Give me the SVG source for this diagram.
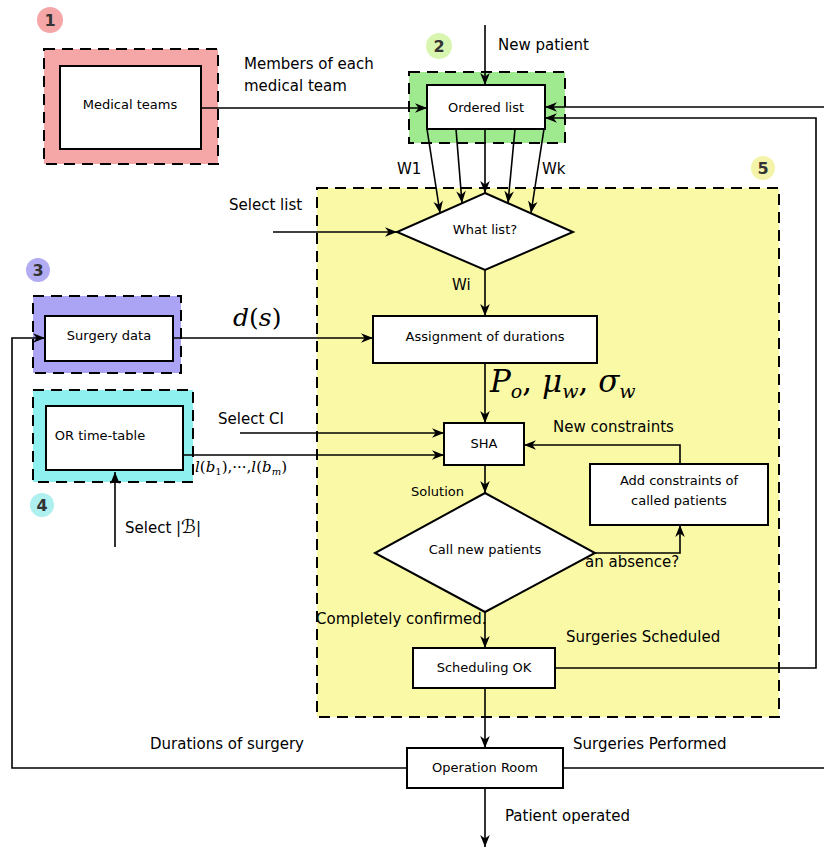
<svg xmlns="http://www.w3.org/2000/svg" width="824" height="849" viewBox="0 0 824 849">
<defs>
<marker id="arr" viewBox="0 0 10 10" refX="10" refY="5" markerWidth="12" markerHeight="12" orient="auto" markerUnits="userSpaceOnUse">
<path d="M0,1 L10,5 L0,9 L3,5 z" fill="#000"/>
</marker>
<style>
.region{stroke:#000;stroke-width:2;stroke-dasharray:11,7}
.box{fill:#fff;stroke:#000;stroke-width:2}
.dia{fill:#fff;stroke:#000;stroke-width:2}
.nl{font-family:"DejaVu Sans",sans-serif;font-size:13px;text-anchor:middle;fill:#000}
.lbl{font-family:"DejaVu Sans",sans-serif;font-size:15px;fill:#000}
.sm{font-family:"DejaVu Sans",sans-serif;font-size:15px;fill:#000}
.math{font-family:"DejaVu Serif",serif;font-style:italic;fill:#000}
.num{font-family:"DejaVu Sans",sans-serif;font-size:16px;font-weight:bold;text-anchor:middle;fill:#333}
.ln{fill:none;stroke:#000;stroke-width:1.6}
.ar{marker-end:url(#arr)}
</style>
</defs>
<rect width="824" height="849" fill="#fff"/>

<!-- regions -->
<g id="region1">
<rect x="44" y="49" width="174" height="115" fill="#f5a6a6" class="region"/>
<circle cx="50" cy="20" r="13" fill="#f5a6a6"/>
<text x="50" y="26" class="num">1</text>
</g>
<g id="region2">
<rect x="409" y="72" width="156" height="71" fill="#9fe98f" class="region"/>
<circle cx="439" cy="46" r="13" fill="#d9f6b0"/>
<text x="439" y="52" class="num">2</text>
</g>
<g id="region3">
<rect x="33" y="296" width="148" height="77" fill="#aba4f5" class="region"/>
<circle cx="38" cy="270" r="12" fill="#b2acf2"/>
<text x="38" y="276" class="num">3</text>
</g>
<g id="region4">
<rect x="33" y="390" width="160" height="92" fill="#8ff0f0" class="region"/>
<circle cx="42" cy="505" r="12" fill="#aef0f0"/>
<text x="42" y="511" class="num">4</text>
</g>
<g id="region5">
<rect x="317" y="188" width="462" height="529" fill="#fafaa6" class="region"/>
<circle cx="763" cy="168" r="12" fill="#f3f3aa"/>
<text x="763" y="174" class="num">5</text>
</g>

<!-- connectors -->
<g id="connectors">
<path d="M201,108 L427,108" class="ln ar"/>
<path d="M485,25 L485,85" class="ln ar"/>
<path d="M824,107 L545,107" class="ln ar"/>
<path d="M555,668 L816,668 L816,118 L545,118" class="ln ar"/>
<path d="M563,768 L824,768" class="ln"/>
<path d="M407,768 L12,768 L12,338 L45,338" class="ln ar"/>
<path d="M427,129 L440,213" class="ln ar"/>
<path d="M456,129 L462,203" class="ln ar"/>
<path d="M485,129 L485,193" class="ln ar"/>
<path d="M515,129 L508,203" class="ln ar"/>
<path d="M544,129 L531,213" class="ln ar"/>
<path d="M273,232 L397,232" class="ln ar"/>
<path d="M485,270 L485,316" class="ln ar"/>
<path d="M173,338 L373,338" class="ln ar"/>
<path d="M485,363 L485,423" class="ln ar"/>
<path d="M240,433 L444,433" class="ln ar"/>
<path d="M183,455 L444,455" class="ln ar"/>
<path d="M115,455 L183,455 M115,455 L115,470" fill="none" stroke="#000" stroke-width="1.4" stroke-dasharray="2,2"/>
<path d="M115,547 L115,472" class="ln ar"/>
<path d="M485,465 L485,493" class="ln ar"/>
<path d="M680,464 L680,445 L524,445" class="ln ar"/>
<path d="M595,553 L680,553 L680,525" class="ln ar"/>
<path d="M485,612 L485,648" class="ln ar"/>
<path d="M485,688 L485,748" class="ln ar"/>
<path d="M485,788 L485,847" class="ln ar"/>
</g>

<!-- nodes -->
<g id="medical-teams">
<rect x="60" y="66" width="141" height="83" class="box"/>
<text x="130" y="109" class="nl">Medical teams</text>
</g>
<g id="ordered-list">
<rect x="427" y="85" width="118" height="44" class="box"/>
<text x="486" y="112" class="nl">Ordered list</text>
</g>
<g id="what-list">
<polygon points="485,193 573,232 485,270 397,232" class="dia"/>
<text x="485" y="234" class="nl">What list?</text>
</g>
<g id="surgery-data">
<rect x="45" y="316" width="128" height="45" class="box"/>
<text x="109" y="340" class="nl">Surgery data</text>
</g>
<g id="assignment">
<rect x="373" y="316" width="224" height="47" class="box"/>
<text x="485" y="341" class="nl">Assignment of durations</text>
</g>
<g id="or-timetable">
<rect x="46" y="406" width="137" height="64" class="box"/>
<text x="100" y="440" class="nl">OR time-table</text>
</g>
<g id="sha">
<rect x="444" y="423" width="80" height="42" class="box"/>
<text x="484" y="448" class="nl">SHA</text>
</g>
<g id="add-constraints">
<rect x="590" y="464" width="178" height="61" class="box"/>
<text x="679" y="485" class="nl">Add constraints of</text>
<text x="679" y="505" class="nl">called patients</text>
</g>
<g id="call-new-patients">
<polygon points="485,493 595,553 485,612 375,553" class="dia"/>
<text x="485" y="554" class="nl">Call new patients</text>
</g>
<g id="scheduling-ok">
<rect x="413" y="648" width="142" height="40" class="box"/>
<text x="484" y="672" class="nl">Scheduling OK</text>
</g>
<g id="operation-room">
<rect x="407" y="748" width="156" height="40" class="box"/>
<text x="485" y="772" class="nl">Operation Room</text>
</g>

<!-- labels -->
<g id="labels">
<text x="244" y="69" class="lbl">Members of each</text>
<text x="244" y="91" class="lbl">medical team</text>
<text x="498" y="50" class="lbl">New patient</text>
<text x="397" y="174" class="sm">W1</text>
<text x="542" y="174" class="sm">Wk</text>
<text x="229" y="210" class="lbl">Select list</text>
<text x="452" y="290" class="sm">Wi</text>
<text x="233" y="326" class="math" font-size="25">d<tspan font-style="normal">(</tspan>s<tspan font-style="normal">)</tspan></text>
<text x="490" y="392" class="math" font-size="31" fill="#222">P<tspan font-size="19" dy="6">o</tspan><tspan dy="-6" font-style="normal">, </tspan>μ<tspan font-size="19" dy="6">w</tspan><tspan dy="-6" font-style="normal">, </tspan>σ<tspan font-size="19" dy="6">w</tspan></text>
<text x="553" y="432" class="lbl">New constraints</text>
<text x="218" y="424" class="lbl">Select CI</text>
<text x="195" y="472" class="math" font-size="15">l<tspan font-style="normal">(</tspan>b<tspan font-size="10" dy="3" font-style="normal">1</tspan><tspan dy="-3" font-style="normal">),···,</tspan>l<tspan font-style="normal">(</tspan>b<tspan font-size="10" dy="3">m</tspan><tspan dy="-3" font-style="normal">)</tspan></text>
<text x="125" y="533" class="lbl">Select |<tspan font-size="19">ℬ</tspan>|</text>
<text x="411" y="496" class="nl" style="text-anchor:start">Solution</text>
<text x="585" y="567" class="sm">an absence?</text>
<text x="316" y="624" class="sm">Completely confirmed.</text>
<text x="566" y="642" class="lbl">Surgeries Scheduled</text>
<text x="150" y="749" class="lbl">Durations of surgery</text>
<text x="573" y="749" class="lbl">Surgeries Performed</text>
<text x="505" y="821" class="lbl">Patient operated</text>
</g>
</svg>
